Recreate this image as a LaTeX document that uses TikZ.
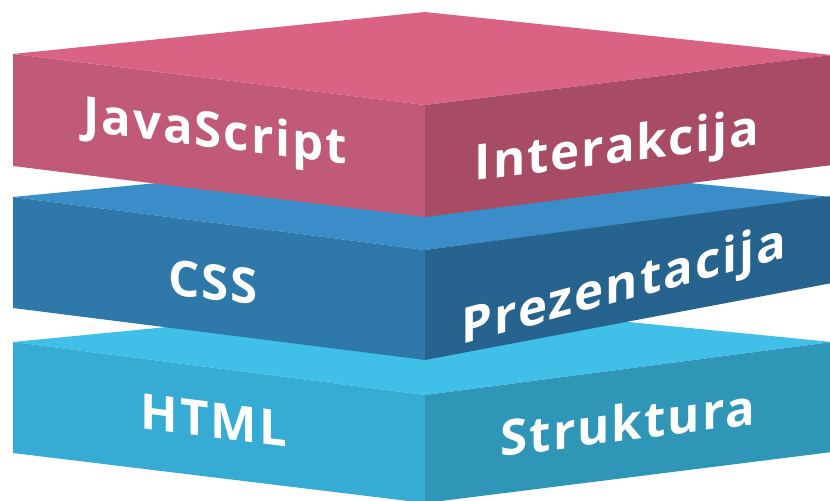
\documentclass[tikz,border=0pt]{standalone}
\usepackage{fontspec}
\setmainfont{Open Sans}[LetterSpace=4]
\usepackage{tikz}
\usetikzlibrary{positioning}

\definecolor{pinktop}{RGB}{218,99,132}
\definecolor{pinkleft}{RGB}{192,90,120}
\definecolor{pinkright}{RGB}{168,76,102}
\definecolor{bluetop}{RGB}{58,141,200}
\definecolor{blueleft}{RGB}{47,120,170}
\definecolor{blueright}{RGB}{39,99,143}
\definecolor{cyantop}{RGB}{64,192,232}
\definecolor{cyanleft}{RGB}{54,171,211}
\definecolor{cyanright}{RGB}{48,150,184}

\tikzset{layertext/.style={text=white,font=\fontsize{42}{42}\selectfont\bfseries,inner sep=0pt},
         leftface/.style={layertext,yslant=-0.124},
         rightface/.style={layertext,yslant=0.128}}

\begin{document}
\begin{tikzpicture}[x=0.03cm,y=-0.03cm]
\useasboundingbox (0,0) rectangle (830,501);
\clip (0,0) rectangle (830,501);
\fill[cyantop] (425,302) -- (832,342) -- (425,395) -- (13,342) -- cycle;
\fill[cyanleft] (13,342) -- (425,395) -- (425,503) -- (13,453) -- cycle;
\fill[cyanright] (425,395) -- (832,342) -- (832,452) -- (425,503) -- cycle;
\fill[bluetop] (425,157) -- (832,197) -- (425,250) -- (13,197) -- cycle;
\fill[blueleft] (13,197) -- (425,250) -- (425,360) -- (13,308) -- cycle;
\fill[blueright] (425,250) -- (832,196) -- (832,283) -- (425,360) -- cycle;
\fill[pinktop] (425,12) -- (832,55) -- (425,105) -- (13,54) -- cycle;
\fill[pinkleft] (13,54) -- (425,105) -- (425,217) -- (13,166) -- cycle;
\fill[pinkright] (425,105) -- (832,55) -- (832,165) -- (425,217) -- cycle;
\node[leftface] (js) at (215,135) {JavaScript};
\node[rightface] (inter) at (617,150) {Interakcija};
\node[leftface] (css) at (213,282) {CSS};
\node[rightface,yslant=0.14] (prez) at (624,288) {Prezentacija};
\node[leftface] (html) at (214,420) {HTML};
\node[rightface] (struk) at (628,422) {Struktura};
\end{tikzpicture}
\end{document}
